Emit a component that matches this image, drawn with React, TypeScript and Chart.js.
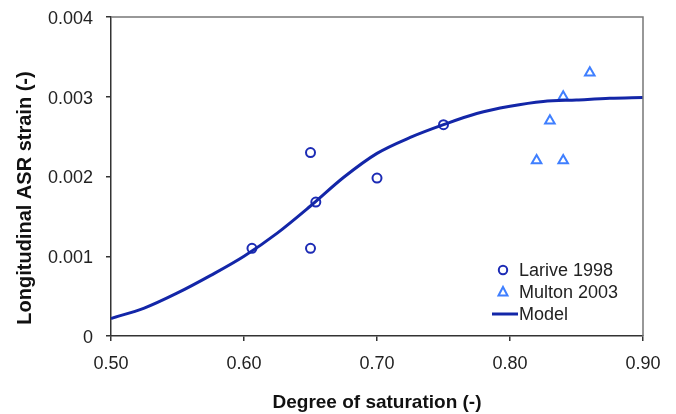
import React, { useEffect, useRef } from "react";
import { Chart, registerables } from "chart.js";

Chart.register(...registerables);

// Larive 1998 (degree of saturation, strain)
const lariveX = [0.606, 0.65, 0.65, 0.654, 0.70, 0.75];
const lariveY = [0.0011, 0.0023, 0.0011, 0.00168, 0.00198, 0.00265];

// Multon 2003
const multonX = [0.86, 0.84, 0.83, 0.82, 0.84];
const multonY = [0.0033, 0.003, 0.0027, 0.0022, 0.0022];

// Model curve
const modelX = [0.5, 0.525, 0.55, 0.575, 0.6, 0.625, 0.65, 0.675, 0.7, 0.725, 0.75, 0.775, 0.8, 0.825, 0.85, 0.875, 0.9];
const modelY = [0.00022, 0.00035, 0.00054, 0.00076, 0.001, 0.00129, 0.00163, 0.00199, 0.00229, 0.00249, 0.00265, 0.00279, 0.00288, 0.00294, 0.00296, 0.00298, 0.00299];

const xTickValues = [0.5, 0.6, 0.7, 0.8, 0.9];
const xTickLabels = ["0.50", "0.60", "0.70", "0.80", "0.90"];
const yTickValues = [0, 0.001, 0.002, 0.003, 0.004];
const yTickLabels = ["0", "0.001", "0.002", "0.003", "0.004"];

const seriesLabels = ["Larive 1998", "Multon 2003", "Model"];
const xTitle = "Degree of saturation (-)";
const yTitle = "Longitudinal ASR strain (-)";

const CIRCLE_COLOR = "#1c2bb5";
const TRI_COLOR = "#3f7fff";
const LINE_COLOR = "#1326a8";
const FONT = "Liberation Sans, Arial, sans-serif";

export default function App() {
  const ref = useRef<HTMLCanvasElement | null>(null);

  useEffect(() => {
    if (!ref.current) return;

    const boxPlugin = {
      id: "boxAndLegend",
      afterDraw(chart: any) {
        const { ctx, chartArea } = chart;
        ctx.save();
        // top & right frame
        ctx.strokeStyle = "#777";
        ctx.lineWidth = 1.5;
        ctx.beginPath();
        ctx.moveTo(chartArea.left, chartArea.top);
        ctx.lineTo(chartArea.right, chartArea.top);
        ctx.lineTo(chartArea.right, chartArea.bottom);
        ctx.stroke();

        // y title
        ctx.fillStyle = "#111";
        ctx.font = `bold 20px ${FONT}`;
        ctx.textAlign = "center";
        ctx.textBaseline = "middle";
        ctx.translate(25, 198);
        ctx.rotate(-Math.PI / 2);
        ctx.fillText(yTitle, 0, 0);
        ctx.restore();

        // legend
        ctx.save();
        ctx.font = `18px ${FONT}`;
        ctx.fillStyle = "#222";
        ctx.textAlign = "left";
        ctx.textBaseline = "middle";
        const lx = 503;
        const tx = 519;
        const rows = [270, 292, 314];
        // circle
        ctx.strokeStyle = CIRCLE_COLOR;
        ctx.lineWidth = 2;
        ctx.beginPath();
        ctx.arc(lx, rows[0], 4.2, 0, Math.PI * 2);
        ctx.stroke();
        // triangle
        ctx.strokeStyle = TRI_COLOR;
        const r = 5;
        ctx.beginPath();
        ctx.moveTo(lx, rows[1] - r);
        ctx.lineTo(lx + r * 0.9, rows[1] + r * 0.7);
        ctx.lineTo(lx - r * 0.9, rows[1] + r * 0.7);
        ctx.closePath();
        ctx.stroke();
        // line
        ctx.strokeStyle = LINE_COLOR;
        ctx.lineWidth = 3;
        ctx.beginPath();
        ctx.moveTo(492, rows[2]);
        ctx.lineTo(518, rows[2]);
        ctx.stroke();
        ctx.fillText(seriesLabels[0], tx, rows[0] + 1);
        ctx.fillText(seriesLabels[1], tx, rows[1] + 1);
        ctx.fillText(seriesLabels[2], tx, rows[2] + 1);
        ctx.restore();
      },
    };

    const chart = new Chart(ref.current, {
      type: "scatter",
      data: {
        datasets: [
          {
            label: seriesLabels[2],
            type: "line",
            data: modelX.map((x, i) => ({ x, y: modelY[i] })),
            borderColor: LINE_COLOR,
            borderWidth: 3,
            pointRadius: 0,
            tension: 0.4,
            cubicInterpolationMode: "monotone",
            fill: false,
          },
          {
            label: seriesLabels[0],
            data: lariveX.map((x, i) => ({ x, y: lariveY[i] })),
            pointStyle: "circle",
            pointRadius: 4.5,
            borderColor: CIRCLE_COLOR,
            backgroundColor: "rgba(0,0,0,0)",
            borderWidth: 2,
          },
          {
            label: seriesLabels[1],
            data: multonX.map((x, i) => ({ x, y: multonY[i] })),
            pointStyle: "triangle",
            pointRadius: 5.5,
            borderColor: TRI_COLOR,
            backgroundColor: "rgba(0,0,0,0)",
            borderWidth: 2,
          },
        ],
      } as any,
      options: {
        animation: false,
        responsive: true,
        maintainAspectRatio: false,
        layout: { padding: { left: 0, top: 17, right: 33, bottom: 0 } },
        plugins: {
          legend: { display: false },
          tooltip: { enabled: false },
        },
        scales: {
          x: {
            type: "linear",
            min: 0.5,
            max: 0.9,
            afterBuildTicks: (s: any) => {
              s.ticks = xTickValues.map((v) => ({ value: v }));
            },
            afterFit: (s: any) => {
              s.height = 78;
              s.paddingLeft = 0;
              s.paddingRight = 0;
            },
            ticks: {
              callback: (v: any) => {
                const i = xTickValues.findIndex((t) => Math.abs(t - v) < 1e-9);
                return i >= 0 ? xTickLabels[i] : "";
              },
              color: "#222",
              font: { family: FONT, size: 18 },
              padding: 12,
              maxRotation: 0,
            },
            grid: {
              display: true,
              drawOnChartArea: false,
              drawTicks: true,
              tickLength: 5,
              color: "#333",
              lineWidth: 1.5,
            },
            border: { display: true, color: "#333", width: 1.5 },
            title: {
              display: true,
              text: xTitle,
              color: "#111",
              font: { family: FONT, size: 19, weight: "bold" },
              padding: { top: 0, bottom: 0 },
            },
          },
          y: {
            type: "linear",
            min: 0,
            max: 0.004,
            afterBuildTicks: (s: any) => {
              s.ticks = yTickValues.map((v) => ({ value: v }));
            },
            afterFit: (s: any) => {
              s.width = 111;
              s.paddingTop = 0;
              s.paddingBottom = 0;
            },
            ticks: {
              callback: (v: any) => {
                const i = yTickValues.findIndex((t) => Math.abs(t - v) < 1e-12);
                return i >= 0 ? yTickLabels[i] : "";
              },
              color: "#222",
              font: { family: FONT, size: 18 },
              padding: 13,
              labelOffset: 2,
            },
            grid: {
              display: true,
              drawOnChartArea: false,
              drawTicks: true,
              tickLength: 5,
              color: "#333",
              lineWidth: 1.5,
            },
            border: { display: true, color: "#333", width: 1.5 },
          },
        },
      } as any,
      plugins: [boxPlugin],
    });

    return () => chart.destroy();
  }, []);

  return (
    <div style={{ position: "absolute", left: 0, top: 0, width: 676, height: 414, background: "#fff" }}>
      <canvas ref={ref} />
    </div>
  );
}
